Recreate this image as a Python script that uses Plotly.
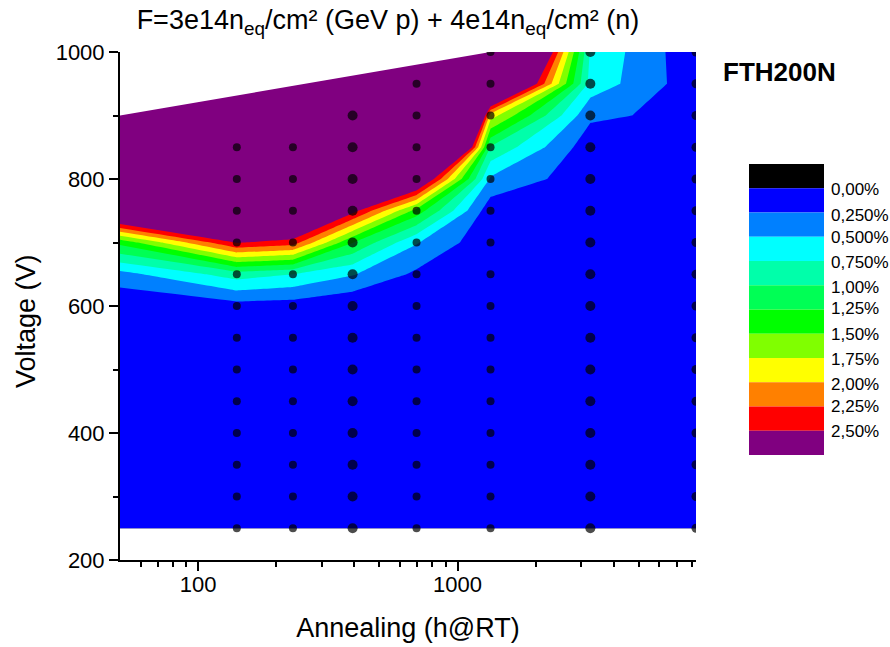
import numpy as np
import plotly.graph_objects as go

# ------------------------------------------------------------------ data
annealing_h = [50, 141, 232, 394, 695, 1340, 3250, 8300]
voltage_V = [250, 300, 350, 400, 450, 500, 550, 600, 650, 700, 750, 800, 850, 900, 950, 1000]

# value in % for each annealing column, one entry per voltage_V row (None = not measured)
val_50h   = [0.01, 0.01, 0.01, 0.01, 0.02, 0.02, 0.02, 0.03, 0.41, 1.32, 3.35, 4.2, 5.0, 5.6, None, None]
val_141h  = [0.02, 0.02, 0.03, 0.03, 0.04, 0.05, 0.08, 0.15, 0.87, 2.52, 4.0, 5.0, 5.5, None, None, None]
val_232h  = [0.02, 0.02, 0.03, 0.03, 0.04, 0.05, 0.07, 0.13, 0.75, 2.38, 3.58, 4.5, 5.2, None, None, None]
val_394h  = [0.01, 0.01, 0.01, 0.02, 0.02, 0.02, 0.02, 0.03, 0.52, 1.26, 2.61, 4.0, 5.0, 5.5, None, None]
val_695h  = [0.02, 0.02, 0.03, 0.03, 0.04, 0.05, 0.06, 0.10, 0.20, 0.52, 1.40, 3.12, 7.1, 10.9, 12.0, None]
val_1340h = [0.02, 0.02, 0.02, 0.03, 0.03, 0.04, 0.04, 0.05, 0.05, 0.06, 0.09, 0.46, 0.98, 1.87, 4.1, 5.48]
val_3250h = [0.02, 0.02, 0.02, 0.03, 0.03, 0.03, 0.04, 0.04, 0.05, 0.06, 0.08, 0.09, 0.10, 0.296, 0.66, 0.717]
val_8300h = [0.02, 0.02, 0.02, 0.02, 0.03, 0.03, 0.03, 0.04, 0.04, 0.05, 0.06, 0.08, 0.12, 0.18, 0.095, 0.06]
columns = [val_50h, val_141h, val_232h, val_394h, val_695h, val_1340h, val_3250h, val_8300h]

# columns whose measurement points are marked with dots
marked_h = [141, 232, 394, 695, 1340, 3250, 8300]

level_values = [0.0, 0.25, 0.5, 0.75, 1.0, 1.25, 1.5, 1.75, 2.0, 2.25, 2.5]
level_labels = ["0,00%", "0,250%", "0,500%", "0,750%", "1,00%", "1,25%",
                "1,50%", "1,75%", "2,00%", "2,25%", "2,50%"]

x_tick_vals = [100, 1000]
x_minor_vals = [60, 70, 80, 90, 200, 300, 400, 500, 600, 700, 800, 900,
                2000, 3000, 4000, 5000, 6000, 7000, 8000]

title_text = "F=3e14n<sub>eq</sub>/cm² (GeV p) + 4e14n<sub>eq</sub>/cm² (n)"
sample_name = "FTH200N"
x_title = "Annealing (h@RT)"
y_title = "Voltage (V)"

# ------------------------------------------------------------------ style
band_colors = ["#000000", "#0000FF", "#0080FF", "#00FFFF", "#00FFAA", "#00FF55",
               "#00FF00", "#80FF00", "#FFFF00", "#FF8000", "#FF0000", "#800080"]
dot_size = {141: 8, 232: 8, 394: 10, 695: 8, 1340: 8, 3250: 10, 8300: 9}
FONT = "Liberation Sans, Arial, sans-serif"

W, H = 890, 647
L, R, T, B = 120, 194, 52, 87
PW, PH = W - L - R, H - T - B


def px_x(px):
    return (px - L) / PW


def px_y(py):
    return (H - B - py) / PH


# ------------------------------------------------------------------ build
z = [[columns[c][r] for c in range(len(annealing_h))] for r in range(len(voltage_V))]

n = len(band_colors)
colorscale = []
for k, col in enumerate(band_colors):
    lo = max(0.0, (k - 0.5) / (n - 1))
    hi = min(1.0, (k + 0.5) / (n - 1))
    colorscale.append([lo, col])
    colorscale.append([hi, col])

step = level_values[1] - level_values[0]
contour = go.Contour(
    x=annealing_h, y=voltage_V, z=z,
    connectgaps=True,
    autocontour=False,
    contours=dict(start=level_values[0], end=level_values[-1], size=step,
                  coloring="fill", showlines=False),
    line=dict(width=0, smoothing=0),
    colorscale=colorscale,
    showscale=False,
    hoverinfo="skip",
)

# upper hull of measured region (in log-x), used to blank the unmeasured corner
max_voltage = [max(v for v, val in zip(voltage_V, col) if val is not None) for col in columns]
pts = [(np.log10(t), vm, t) for t, vm in zip(annealing_h, max_voltage)]
hull = []
for p in pts:
    while len(hull) >= 2:
        o, a = hull[-2], hull[-1]
        cr = (a[0] - o[0]) * (p[1] - o[1]) - (a[1] - o[1]) * (p[0] - o[0])
        if cr >= 0:
            hull.pop()
        else:
            break
    hull.append(p)
top = voltage_V[-1] + 200
mask_x = [h[2] for h in hull] + [annealing_h[-1], annealing_h[0]]
mask_y = [h[1] for h in hull] + [top, top]
mask = go.Scatter(x=mask_x, y=mask_y, mode="lines", fill="toself",
                  fillcolor="white", line=dict(width=0, color="white"),
                  hoverinfo="skip", showlegend=False)

dx, dy, ds = [], [], []
for t, col in zip(annealing_h, columns):
    if t not in marked_h:
        continue
    for v, val in zip(voltage_V, col):
        if val is not None:
            dx.append(t)
            dy.append(v)
            ds.append(dot_size[t])
dots = go.Scatter(x=dx, y=dy, mode="markers",
                  marker=dict(color="black", size=ds, line=dict(width=0)),
                  hoverinfo="skip", showlegend=False)

fig = go.Figure([contour, mask, dots])

# legend blocks drawn as shapes
shapes = []
box_top, box_h = 164, 24.25
for k, col in enumerate(band_colors):
    y0 = box_top + k * box_h
    shapes.append(dict(type="rect", xref="paper", yref="paper",
                       x0=px_x(749), x1=px_x(824), y0=px_y(y0 + box_h), y1=px_y(y0),
                       fillcolor=col, line=dict(width=0), layer="above"))

label_y = [190, 215, 237, 262, 287, 308, 334, 359, 384, 406, 431]
annotations = []
for lab, ly in zip(level_labels, label_y):
    annotations.append(dict(text=lab, xref="paper", yref="paper",
                            x=px_x(829), y=px_y(ly), xanchor="left", yanchor="middle",
                            showarrow=False, font=dict(size=17, color="black", family=FONT)))
annotations.append(dict(text="<b>%s</b>" % sample_name, xref="paper", yref="paper",
                        x=px_x(779), y=px_y(72), xanchor="center", yanchor="middle",
                        showarrow=False, font=dict(size=26, color="black", family=FONT)))
annotations.append(dict(text=y_title, xref="paper", yref="paper", textangle=-90,
                        x=px_x(26), y=px_y(321), xanchor="center", yanchor="middle",
                        showarrow=False, font=dict(size=27, color="black", family=FONT)))

fig.update_layout(
    width=W, height=H,
    margin=dict(l=L, r=R, t=T, b=B, autoexpand=False),
    paper_bgcolor="white", plot_bgcolor="white",
    font=dict(family=FONT, color="black"),
    title=dict(text=title_text, x=px_x(388), xref="paper", xanchor="center",
               y=1 - 20 / H, yref="container", yanchor="middle",
               font=dict(size=27, family=FONT, color="black")),
    shapes=shapes, annotations=annotations,
    showlegend=False,
)
fig.update_xaxes(
    type="log", range=[np.log10(annealing_h[0]), np.log10(annealing_h[-1])],
    showline=True, linecolor="black", linewidth=2, mirror=False,
    ticks="outside", ticklen=9, tickwidth=2, tickcolor="black",
    tickmode="array", tickvals=x_tick_vals, ticktext=[str(v) for v in x_tick_vals],
    ticklabelstandoff=-5,
    minor=dict(tickmode="array", tickvals=x_minor_vals, ticks="outside",
               ticklen=5, tickwidth=2, tickcolor="black", showgrid=False),
    showgrid=False, zeroline=False,
    tickfont=dict(size=22, family=FONT, color="black"),
    title=dict(text=x_title, font=dict(size=27, family=FONT, color="black"),
               standoff=22),
)
fig.update_yaxes(
    range=[200, 1000],
    showline=True, linecolor="black", linewidth=2, mirror=False,
    ticks="outside", ticklen=9, tickwidth=2, tickcolor="black",
    tickmode="linear", tick0=200, dtick=200,
    minor=dict(tick0=200, dtick=100, ticks="outside", ticklen=5, tickwidth=2,
               tickcolor="black", showgrid=False),
    showgrid=False, zeroline=False,
    tickfont=dict(size=22, family=FONT, color="black"),
)

fig.write_html("out.html")
